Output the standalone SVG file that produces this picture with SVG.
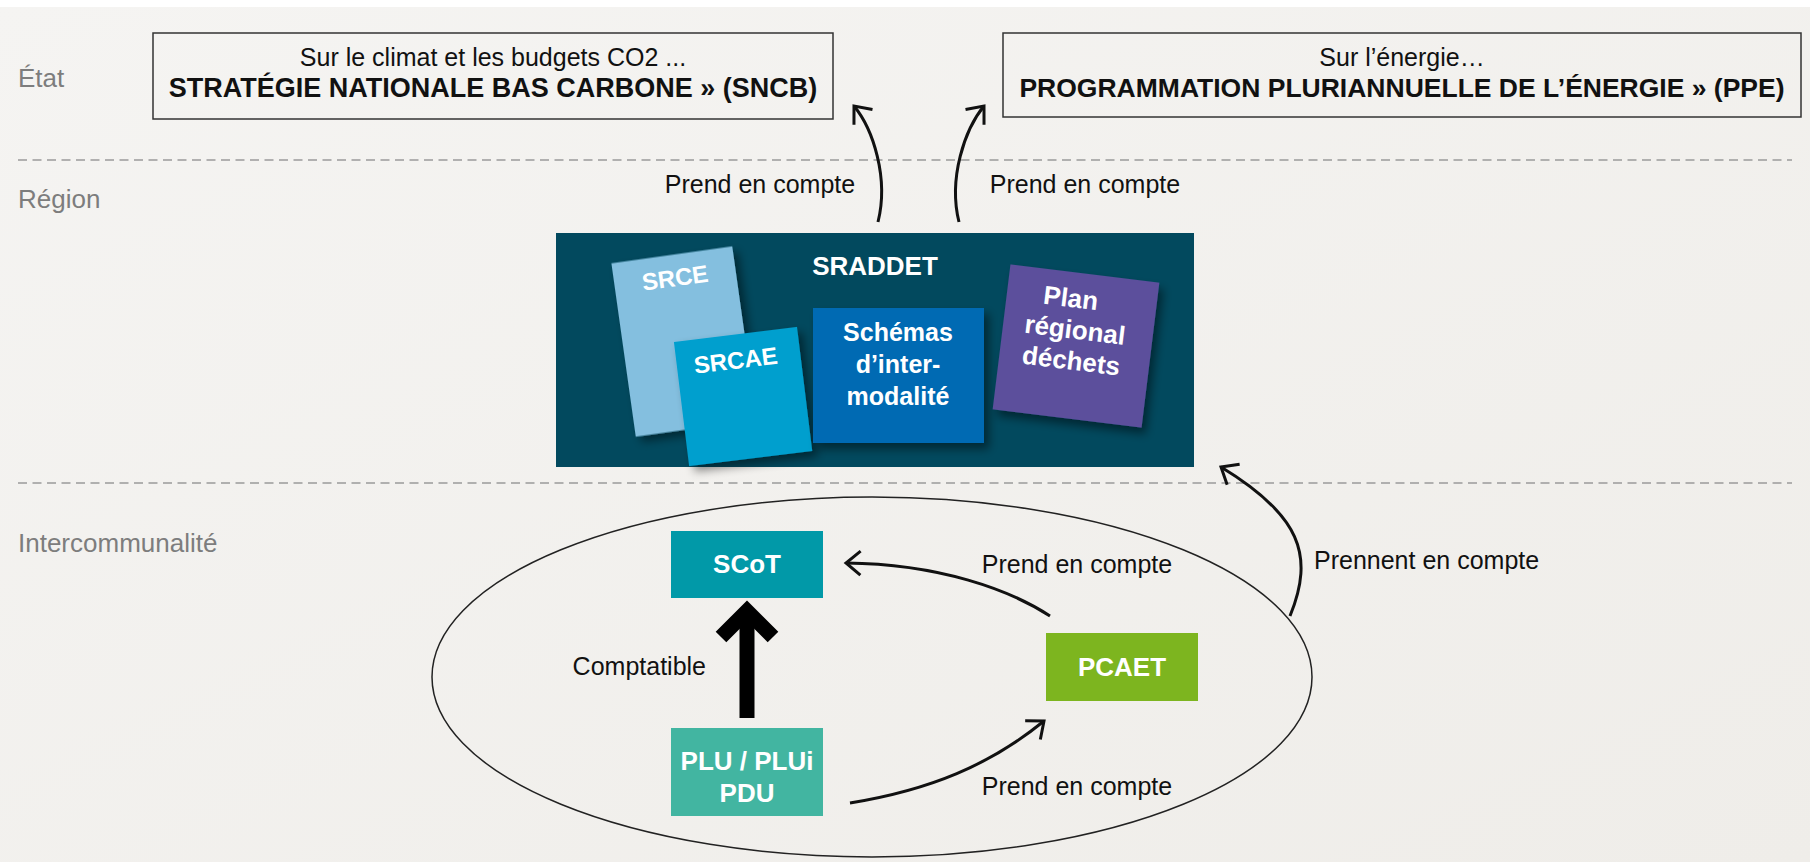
<svg xmlns="http://www.w3.org/2000/svg" width="1810" height="862" viewBox="0 0 1810 862">
<defs>
  <linearGradient id="bg" x1="0" y1="0" x2="1" y2="1">
    <stop offset="0" stop-color="#f5f4f2"/>
    <stop offset="1" stop-color="#efede9"/>
  </linearGradient>
  <filter id="sh" x="-20%" y="-20%" width="150%" height="150%">
    <feDropShadow dx="5" dy="6" stdDeviation="5" flood-color="#000" flood-opacity="0.45"/>
  </filter>
  <marker id="ah" markerUnits="userSpaceOnUse" markerWidth="40" markerHeight="40" viewBox="-20 -20 40 40" refX="0" refY="0" orient="auto" overflow="visible">
    <path d="M-14.5,-12 L0,0 L-14.5,12" fill="none" stroke="#111" stroke-width="3"/>
  </marker>
</defs>
<style>
  .lbl{font-family:"Liberation Sans",Arial,sans-serif;font-size:26px;fill:#7d7d7d}
  .t{font-family:"Liberation Sans",Arial,sans-serif;font-size:25px;fill:#111}
  .tm{text-anchor:middle}
  .tb{font-family:"Liberation Sans",Arial,sans-serif;font-size:27px;font-weight:bold;fill:#111;text-anchor:middle}
  .w{font-family:"Liberation Sans",Arial,sans-serif;font-weight:bold;fill:#fff;text-anchor:middle}
  .dash{stroke:#9a9a9a;stroke-width:1.5;stroke-dasharray:9 5.5;fill:none}
  .box{fill:none;stroke:#333;stroke-width:1.5}
  .conn{fill:none;stroke:#111;stroke-width:3;marker-end:url(#ah)}
</style>

<rect x="0" y="0" width="1810" height="862" fill="url(#bg)"/>
<rect x="0" y="0" width="1810" height="7" fill="#ffffff"/>

<g id="levels">
  <text class="lbl" x="18" y="87">État</text>
  <text class="lbl" x="18" y="208">Région</text>
  <text class="lbl" x="18" y="552">Intercommunalité</text>
  <line class="dash" x1="18" y1="160" x2="1792" y2="160"/>
  <line class="dash" x1="18" y1="483" x2="1792" y2="483"/>
</g>

<g id="sncb">
  <rect class="box" x="153" y="33" width="680" height="86"/>
  <text class="t tm" x="493" y="66">Sur le climat et les budgets CO2 ...</text>
  <text class="tb" x="493" y="97">STRATÉGIE NATIONALE BAS CARBONE » (SNCB)</text>
</g>

<g id="ppe">
  <rect class="box" x="1003" y="33" width="798" height="84"/>
  <text class="t tm" x="1402" y="66">Sur l’énergie…</text>
  <text class="tb" x="1402" y="97" style="font-size:26.5px">PROGRAMMATION PLURIANNUELLE DE L’ÉNERGIE » (PPE)</text>
</g>

<g id="sraddet">
  <rect x="556" y="233" width="638" height="234" fill="#02495e"/>
  <text class="w" x="875" y="275" font-size="26">SRADDET</text>
</g>

<g id="srce" transform="translate(684 341.5) rotate(-8)">
  <rect x="-61" y="-87.5" width="122" height="175" fill="#84bfdf" filter="url(#sh)"/>
  <text class="w" x="0" y="-56" font-size="24">SRCE</text>
</g>

<g id="srcae" transform="translate(743 396) rotate(-7)">
  <rect x="-62" y="-62" width="124" height="125" fill="#049fce" filter="url(#sh)"/>
  <text class="w" x="-3" y="-28" font-size="24">SRCAE</text>
</g>

<g id="schemas">
  <rect x="813" y="308" width="171" height="135" fill="#026ab3" filter="url(#sh)"/>
  <text class="w" x="898" y="341" font-size="25">Schémas</text>
  <text class="w" x="898" y="373" font-size="25">d’inter-</text>
  <text class="w" x="898" y="405" font-size="25">modalité</text>
</g>

<g id="plan-dechets" transform="translate(1076 346) rotate(7)">
  <rect x="-75" y="-73" width="150" height="146" fill="#5b4f9c" filter="url(#sh)"/>
  <text class="w" x="-11" y="-38" font-size="26">Plan</text>
  <text class="w" x="-3" y="-7" font-size="26">régional</text>
  <text class="w" x="-3" y="24" font-size="26">déchets</text>
</g>

<g id="intercommunalite">
  <ellipse cx="872" cy="677" rx="440" ry="180" fill="none" stroke="#222" stroke-width="1.5"/>
</g>

<g id="scot">
  <rect x="671" y="531" width="152" height="67" fill="#0199a8"/>
  <text class="w" x="747" y="573" font-size="26">SCoT</text>
</g>

<g id="plu">
  <rect x="671" y="728" width="152" height="88" fill="#42b5a1"/>
  <text class="w" x="747" y="770" font-size="26">PLU / PLUi</text>
  <text class="w" x="747" y="802" font-size="26">PDU</text>
</g>

<g id="pcaet">
  <rect x="1046" y="633" width="152" height="68" fill="#7db51f"/>
  <text class="w" x="1122" y="676" font-size="26">PCAET</text>
</g>

<g id="connectors">
  <path class="conn" d="M878 222 C 889 178, 873 129, 854 106"/>
  <text class="t tm" x="760" y="193">Prend en compte</text>
  <path class="conn" d="M959 222 C 948 178, 965 129, 984 106"/>
  <text class="t tm" x="1085" y="193">Prend en compte</text>

  <path d="M747 718 V 612" fill="none" stroke="#000" stroke-width="15"/>
  <path d="M721 637 L747 611 L773 637" fill="none" stroke="#000" stroke-width="15" stroke-linejoin="miter"/>
  <text class="t" x="706" y="675" text-anchor="end">Comptatible</text>

  <path class="conn" d="M1050 616 C 1010 590, 940 564, 846 563"/>
  <text class="t tm" x="1077" y="573">Prend en compte</text>

  <path class="conn" d="M850 803 C 930 790, 990 765, 1044 721"/>
  <text class="t tm" x="1077" y="795">Prend en compte</text>

  <path class="conn" d="M1290 616 C 1315 555, 1300 515, 1221 467"/>
  <text class="t" x="1314" y="569">Prennent en compte</text>
</g>
</svg>
